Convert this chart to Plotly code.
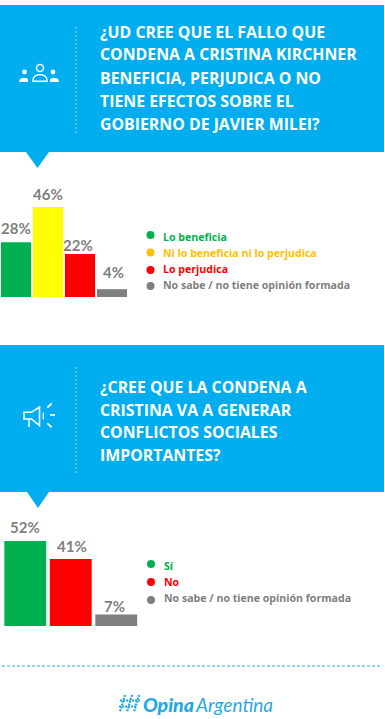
import plotly.graph_objects as go

W, H = 385, 719
BLUE = "#00aeef"
GRAY = "#7f7f7f"
GREEN = "#00b050"
YELLOW = "#ffff00"
AMBER = "#ffc000"
RED = "#ff0000"
FONT = "Open Sans"

q1_categories = ["Lo beneficia", "Ni lo beneficia ni lo perjudica", "Lo perjudica", "No sabe / no tiene opinión formada"]
q1_values = [28, 46, 22, 4]
q1_bar_colors = [GREEN, YELLOW, RED, GRAY]
q1_legend_colors = [GREEN, AMBER, RED, GRAY]
q1_title = ["¿UD CREE QUE EL FALLO QUE", "CONDENA A CRISTINA KIRCHNER", "BENEFICIA, PERJUDICA O NO", "TIENE EFECTOS SOBRE EL", "GOBIERNO DE JAVIER MILEI?"]

q2_categories = ["Sí", "No", "No sabe / no tiene opinión formada"]
q2_values = [52, 41, 7]
q2_bar_colors = [GREEN, RED, GRAY]
q2_legend_colors = [GREEN, RED, GRAY]
q2_title = ["¿CREE QUE LA CONDENA A", "CRISTINA VA A GENERAR", "CONFLICTOS SOCIALES", "IMPORTANTES?"]

# label nudges relative to the top of each bar (x, y in screen pixels)
q1_label_shift = [(0, 14), (0, 13), (-2, 9), (1, 17)]
q2_label_shift = [(0, 14), (1, 13), (-2, 9)]

def X(x): return x / W
def Y(y): return 1 - y / H

def rect(x0, y0, x1, y1, color):
    return dict(type="rect", xref="paper", yref="paper", x0=X(x0), x1=X(x1), y0=Y(y0), y1=Y(y1),
                fillcolor=color, line_width=0, layer="below")
def circle(cx, cy, r, fill=None, line=None, lw=1.5, layer="above"):
    return dict(type="circle", xref="paper", yref="paper", x0=X(cx-r), x1=X(cx+r), y0=Y(cy-r), y1=Y(cy+r),
                fillcolor=fill or "rgba(0,0,0,0)", line=dict(color=line or "rgba(0,0,0,0)", width=lw if line else 0), layer=layer)
def seg(x0, y0, x1, y1, color="white", width=1.5, dash="solid"):
    return dict(type="line", xref="paper", yref="paper", x0=X(x0), x1=X(x1), y0=Y(y0), y1=Y(y1),
                line=dict(color=color, width=width, dash=dash))
def poly(points, fill=None, line=None, lw=1.5, close=True):
    d = "M " + " L ".join(f"{X(a):.5f},{Y(b):.5f}" for a, b in points) + (" Z" if close else "")
    return dict(type="path", xref="paper", yref="paper", path=d, fillcolor=fill or "rgba(0,0,0,0)",
                line=dict(color=line or "rgba(0,0,0,0)", width=lw if line else 0))
def label(x, y, s, size, color, family=FONT, bold=True, italic=False, weight=None):
    t = s
    if bold: t = f"<b>{t}</b>"
    if italic: t = f"<i>{t}</i>"
    font = dict(family=family, size=size, color=color)
    if weight: font["weight"] = weight
    return dict(xref="paper", yref="paper", x=X(x), y=Y(y), text=t, showarrow=False, xanchor="left", yanchor="middle",
                font=font, borderpad=0, borderwidth=0)

shapes, annos = [], []

# header panels
for top, bottom, tri in [(5, 152, (26, 49, 37.5, 168)), (345, 492, (27, 49, 38, 508))]:
    shapes.append(rect(0, top, 384, bottom, BLUE))
    shapes.append(poly([(tri[0], bottom), (tri[1], bottom), (tri[2], tri[3])], fill=BLUE))
    shapes.append(seg(76, top + 22, 76, bottom - 17, color="#8fdcf7", width=1, dash="2px,2px"))

for s, y in zip(q1_title, [32, 54.5, 78, 101.5, 123.5]):
    annos.append(label(100, y, s, 15.85, "white"))
for s, y in zip(q2_title, [387, 409.5, 432, 455]):
    annos.append(label(100, y, s, 15.85, "white"))

# people icon
shapes += [
    circle(40, 68, 3.5, line="white", lw=1.5),
    poly([(33, 81.3), (33.4, 78), (35.2, 75.8), (38, 74.8), (42, 74.8), (44.8, 75.8), (46.6, 78), (47, 81.3)], line="white", lw=1.5),
    circle(24.5, 72, 2.4, fill="white"),
    circle(53, 72, 2.4, fill="white"),
    poly([(19, 82), (19.6, 79.5), (21.5, 78), (26, 78), (28, 79), (28, 82)], fill="white"),
    poly([(50, 82), (50, 79), (52, 78), (56.5, 78), (58.4, 79.5), (59, 82)], fill="white"),
]
# megaphone icon
shapes += [
    poly([(24, 412.3), (24, 419), (31.5, 419), (39.5, 425.5), (39.5, 407), (31.5, 412.3)], line="white", lw=1.6),
    seg(29, 419, 29, 427),
    seg(43.3, 412.5, 43.3, 419.5, width=1.3),
    seg(47.3, 407.7, 51.7, 403.3, width=1.8),
    seg(50, 415, 55, 415, width=1.8),
    seg(47.3, 423.3, 51.7, 427.3, width=1.8),
]

# legends
for c, s, cy, ty in zip(q1_legend_colors, q1_categories, [235, 252.5, 270, 286], [237, 253, 269, 284.5]):
    shapes.append(circle(150.5, cy, 4, fill=c))
    annos.append(label(163, ty, s, 10.6, c))
for c, s, cy, ty in zip(q2_legend_colors, q2_categories, [564, 582, 600], [566, 582, 598]):
    shapes.append(circle(151, cy, 4, fill=c))
    annos.append(label(163.5, ty, s, 10.6, c))

# footer
shapes.append(seg(2, 666, 381, 666, color="#29abe2", width=1, dash="3px,2px"))
LOGO = "#1fa9e6"
annos.append(label(143, 704, "Opina", 19.5, LOGO, family="Lato", bold=False, italic=True, weight=900))
annos.append(label(194.5, 704, "Argentina", 19, LOGO, family="Lato", bold=False, italic=True))
for x0, x1 in [(125, 120), (132, 127), (139, 134)]:
    shapes.append(seg(x0, 695, x1, 712, color=LOGO, width=2.2, dash="2px,1px"))
for y, x0, x1 in [(700.5, 120, 140), (706.5, 119, 137)]:
    shapes.append(seg(x0, y, x1, y, color=LOGO, width=2.2, dash="2px,1px"))

fig = go.Figure()
fig.add_trace(go.Bar(x=q1_categories, y=q1_values, marker=dict(color=q1_bar_colors, line_width=0),
                     xaxis="x", yaxis="y", hoverinfo="skip"))
fig.add_trace(go.Bar(x=q2_categories, y=q2_values, marker=dict(color=q2_bar_colors, line_width=0),
                     xaxis="x2", yaxis="y2", width=0.92, hoverinfo="skip"))

# value labels sit on the axes so they follow the data
for axx, axy, cats, vals, shifts in [("x", "y", q1_categories, q1_values, q1_label_shift),
                                     ("x2", "y2", q2_categories, q2_values, q2_label_shift)]:
    for c, v, (dx, dy) in zip(cats, vals, shifts):
        annos.append(dict(xref=axx, yref=axy, x=c, y=v, xshift=dx, yshift=dy, text=f"<b>{v}%</b>", showarrow=False,
                          xanchor="center", yanchor="middle", font=dict(family="Lato", size=15, color=GRAY)))

hidden = dict(visible=False, fixedrange=True)
fig.update_layout(
    width=W, height=H, margin=dict(l=0, r=0, t=0, b=0), showlegend=False,
    paper_bgcolor="white", plot_bgcolor="rgba(0,0,0,0)", bargap=0.06,
    xaxis=dict(domain=[X(0), X(128)], range=[-0.5, 3.5], **hidden),
    yaxis=dict(domain=[Y(297), Y(199.15)], range=[0, 50], **hidden),
    xaxis2=dict(domain=[X(2.5), X(139)], range=[-0.5, 2.5], **hidden),
    yaxis2=dict(domain=[Y(626), Y(524.25)], range=[0, 62.2], anchor="x2", **hidden),
    shapes=shapes, annotations=annos,
)
fig.write_html("out.html", config=dict(displayModeBar=False),
               post_script="document.body.style.margin='0';document.documentElement.style.overflow='hidden';")
